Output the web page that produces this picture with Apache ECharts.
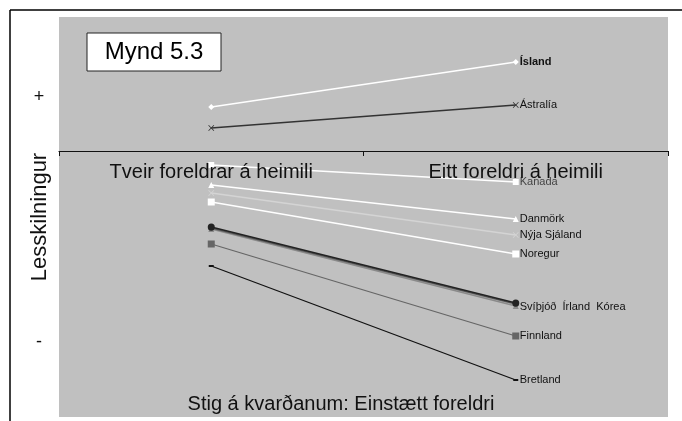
<!DOCTYPE html>
<html><head><meta charset="utf-8">
<script src="https://cdn.jsdelivr.net/npm/echarts@6/dist/echarts.min.js"></script>
<style>html,body{margin:0;padding:0;background:#fff}#c{width:682px;height:421px}</style>
</head><body><div id="c"></div>
<script>
const categories = ['Tveir foreldrar á heimili', 'Eitt foreldri á heimili'];
const island = [44, 89];
const astralia = [23, 46];
const kanada = [-14, -31];
const danmork = [-34, -68];
const nyjaSjaland = [-42, -84];
const noregur = [-51, -103];
const svithjod = [-76, -152];
const irland = [-77, -153];
const korea = [-78, -155];
const finnland = [-93, -185];
const bretland = [-115, -229];
const seriesNames = ['Ísland','Ástralía','Kanada','Danmörk','Nýja Sjáland','Noregur','Svíþjóð','Írland','Kórea','Finnland','Bretland'];
const endLabels = ['Ísland','Ástralía','Kanada','Danmörk','Nýja Sjáland','Noregur','Svíþjóð  Írland  Kórea','','','Finnland','Bretland'];
const seriesData = [island, astralia, kanada, danmork, nyjaSjaland, noregur, svithjod, irland, korea, finnland, bretland];

const X = 'path://M0,1L1,0L5,4L9,0L10,1L6,5L10,9L9,10L5,6L1,10L0,9L4,5Z';
const styles = [
  {c:'#ffffff', s:'diamond', sz:6, bold:true},
  {c:'#333333', s:X, sz:6},
  {c:'#ffffff', s:'rect', sz:6},
  {c:'#ffffff', s:'triangle', sz:6},
  {c:'#d4d4d4', s:X, sz:6},
  {c:'#ffffff', s:'rect', sz:7},
  {c:'#222222', s:'circle', sz:7},
  {c:'#555555', s:'circle', sz:6},
  {c:'#8a8a8a', s:'triangle', sz:6},
  {c:'#666666', s:'rect', sz:7},
  {c:'#111111', s:'rect', sz:[5,2]}
];

const series = seriesData.map((d, i) => ({
  name: seriesNames[i],
  type: 'line',
  data: d,
  symbol: styles[i].s,
  symbolSize: styles[i].sz,
  showAllSymbol: true,
  lineStyle: {color: styles[i].c, width: 1.3},
  itemStyle: {color: styles[i].c},
  z: 3 + (seriesData.length - i),
  endLabel: {
    show: endLabels[i] !== '',
    formatter: endLabels[i],
    distance: 4,
    color: i === 2 ? '#444' : '#111',
    fontSize: 11,
    fontFamily: 'Liberation Sans',
    fontWeight: styles[i].bold ? 'bold' : 'normal',
    offset: i === 6 ? [0, 4] : [0, 0]
  },
  animation: false
}));

const chart = echarts.init(document.getElementById('c'));
chart.setOption({
  animation: false,
  grid: {left: 59, right: 14, top: 17, bottom: 4, show: true, backgroundColor: '#c0c0c0', borderWidth: 0, outerBoundsMode: 'none', containLabel: false},
  xAxis: {
    type: 'category', data: categories, boundaryGap: true,
    position: 'bottom', offset: -266,
    axisLine: {onZero: false, lineStyle: {color: '#111', width: 1.2}},
    axisTick: {show: true, length: 5, inside: false, lineStyle: {color: '#111'}},
    axisLabel: {color: '#111', fontSize: 20, fontFamily: 'Liberation Sans', margin: 11},
    z: 30
  },
  yAxis: {
    type: 'value', min: -266, max: 134,
    axisLine: {show: false}, axisTick: {show: false}, axisLabel: {show: false}, splitLine: {show: false}
  },
  series: series,
  graphic: [
    {type: 'line', shape: {x1: 10, y1: 10, x2: 682, y2: 10}, style: {stroke: '#000', lineWidth: 1.5}},
    {type: 'line', shape: {x1: 10, y1: 10, x2: 10, y2: 421}, style: {stroke: '#000', lineWidth: 1.5}},
    {type: 'rect', shape: {x: 87, y: 33, width: 134, height: 38}, style: {fill: '#fff', stroke: '#222', lineWidth: 1}, z: 20},
    {type: 'text', x: 154, y: 52, style: {text: 'Mynd 5.3', fontSize: 24, fontFamily: 'Liberation Sans', fill: '#000', align: 'center', verticalAlign: 'middle'}, z: 21},
    {type: 'text', x: 341, y: 404, style: {text: 'Stig á kvarðanum: Einstætt foreldri', fontSize: 20, fontFamily: 'Liberation Sans', fill: '#111', align: 'center', verticalAlign: 'middle'}, z: 21},
    {type: 'text', x: 40, y: 217, rotation: Math.PI / 2, style: {text: 'Lesskilningur', fontSize: 22, fontFamily: 'Liberation Sans', fill: '#111', align: 'center', verticalAlign: 'middle'}, z: 21},
    {type: 'text', x: 39, y: 97, style: {text: '+', fontSize: 18, fontFamily: 'Liberation Sans', fill: '#111', align: 'center', verticalAlign: 'middle'}, z: 21},
    {type: 'text', x: 39, y: 342, style: {text: '-', fontSize: 18, fontFamily: 'Liberation Sans', fill: '#111', align: 'center', verticalAlign: 'middle'}, z: 21}
  ]
});
</script></body></html>
